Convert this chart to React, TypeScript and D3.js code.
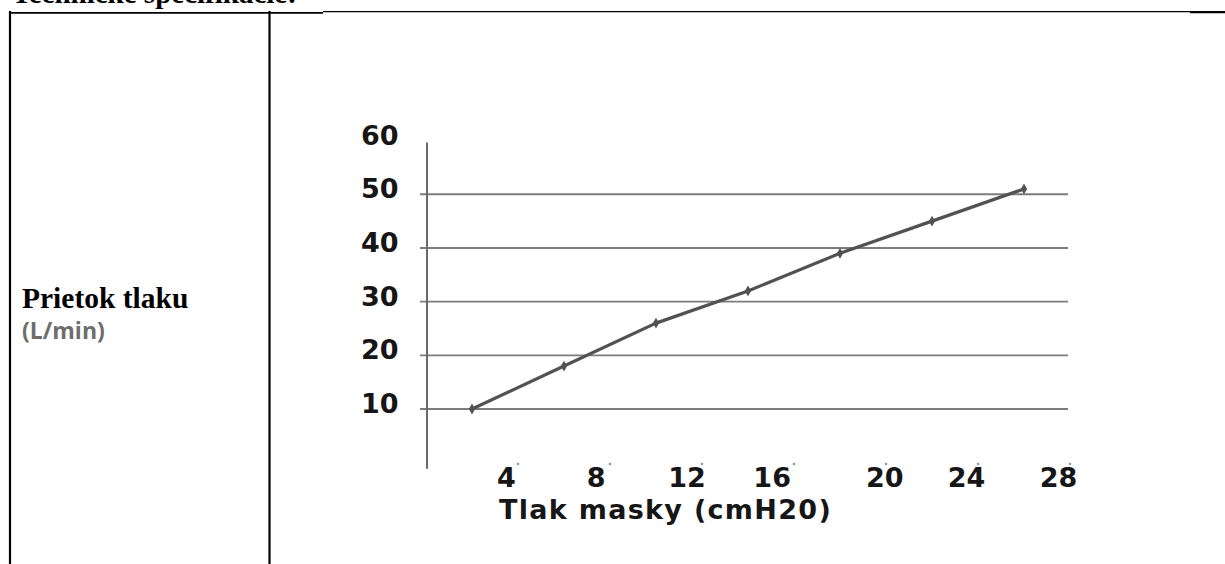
import React, { useEffect, useRef } from "react";
import * as d3 from "d3";

const W = 1225;
const H = 564;

// chart values
const pressure = [2, 6, 10, 14, 18, 22, 26];
const flow = [10, 18, 26, 32, 39, 45, 51];
const xTicks = [4, 8, 12, 16, 20, 24, 28];
const xTickLabels = ["4", "8", "12", "16", "20", "24", "28"];
// the labels sit a little left of their tick dots, not evenly
const xLabelAt = [3.5, 7.4, 11.35, 15.05, 19.95, 23.5, 27.5];
const yTicks = [10, 20, 30, 40, 50, 60];
const gridTicks = [10, 20, 30, 40, 50];

const docTitle = "Technické špecifikácie:";
const rowLabel = "Prietok tlaku";
const rowUnit = "(L/min)";
const xTitle = "Tlak masky (cmH20)";

const chartFont = "'DejaVu Sans', sans-serif";
const serif = "'Liberation Serif', 'Times New Roman', serif";

const Chart = () => {
  const ref = useRef<SVGSVGElement>(null);

  useEffect(() => {
    const svg = d3.select(ref.current);
    svg.selectAll("*").remove();

    // document table around the chart
    const table = svg.append("g");
    table
      .append("text")
      .attr("x", 12)
      .attr("y", 3)
      .attr("font-family", serif)
      .attr("font-weight", "bold")
      .attr("font-size", 29)
      .attr("fill", "#000")
      .text(docTitle);

    const border = [
      { x1: 9, x2: 323, y: 12.9, w: 1.7 },
      { x1: 323, x2: 1190, y: 11.7, w: 1.3 },
      { x1: 1190, x2: W, y: 12.2, w: 2.3 },
    ];
    border.forEach((b) => {
      table
        .append("line")
        .attr("x1", b.x1)
        .attr("x2", b.x2)
        .attr("y1", b.y)
        .attr("y2", b.y)
        .attr("stroke", "#000")
        .attr("stroke-width", b.w);
    });
    [10, 269.5].forEach((x) => {
      table
        .append("line")
        .attr("x1", x)
        .attr("x2", x)
        .attr("y1", 11)
        .attr("y2", H)
        .attr("stroke", "#000")
        .attr("stroke-width", 2.2);
    });

    table
      .append("text")
      .attr("x", 22)
      .attr("y", 308)
      .attr("font-family", serif)
      .attr("font-weight", "bold")
      .attr("font-size", 29.5)
      .attr("fill", "#000")
      .text(rowLabel);
    table
      .append("text")
      .attr("x", 22)
      .attr("y", 339)
      .attr("font-family", "'Open Sans', Lato, sans-serif")
      .attr("font-weight", "bold")
      .attr("font-size", 23)
      .attr("fill", "#6d6d6d")
      .text(rowUnit);

    // scales: axis sits at pressure 0
    const x = d3.scaleLinear().domain([0, 28]).range([426, 1070]);
    const y = d3.scaleLinear().domain([0, 60]).range([462.7, 140.6]);

    const g = svg.append("g");

    // gridlines
    g.selectAll(".grid")
      .data(gridTicks)
      .enter()
      .append("line")
      .attr("x1", x(0) - 6)
      .attr("x2", x(28) - 2)
      .attr("y1", (d) => y(d))
      .attr("y2", (d) => y(d))
      .attr("stroke", "#7c7c7c")
      .attr("stroke-width", 1.9);

    // y axis line
    g.append("line")
      .attr("x1", x(0) + 1)
      .attr("x2", x(0) + 1)
      .attr("y1", y(60) + 2)
      .attr("y2", y(0) + 6)
      .attr("stroke", "#6a6a6a")
      .attr("stroke-width", 2);

    // y tick labels
    g.selectAll(".ylab")
      .data(yTicks)
      .enter()
      .append("text")
      .attr("x", 361)
      .attr("y", (d) => y(d) + 4)
      .attr("font-family", chartFont)
      .attr("font-weight", "bold")
      .attr("font-size", 27)
      .attr("fill", "#161616")
      .text((d) => String(d));

    // tiny tick dots above the x labels
    g.selectAll(".xdot")
      .data(xTicks)
      .enter()
      .append("circle")
      .attr("cx", (d) => x(d))
      .attr("cy", 464)
      .attr("r", 1.3)
      .attr("fill", "#9a9a9a");

    g.selectAll(".xlab")
      .data(xTickLabels)
      .enter()
      .append("text")
      .attr("x", (_, i) => x(xLabelAt[i]))
      .attr("y", 487)
      .attr("text-anchor", "middle")
      .attr("font-family", chartFont)
      .attr("font-weight", "bold")
      .attr("font-size", 27)
      .attr("fill", "#161616")
      .text((d) => d);

    g.append("text")
      .attr("x", 499)
      .attr("y", 519)
      .attr("font-family", chartFont)
      .attr("font-weight", "bold")
      .attr("font-size", 27)
      .attr("letter-spacing", 1.3)
      .attr("fill", "#161616")
      .text(xTitle);

    // data line
    const pts = pressure.map((p, i) => [p, flow[i]] as [number, number]);
    const line = d3
      .line<[number, number]>()
      .x((d) => x(d[0]))
      .y((d) => y(d[1]));

    g.append("path")
      .datum(pts)
      .attr("d", line)
      .attr("fill", "none")
      .attr("stroke", "#525252")
      .attr("stroke-width", 3.2)
      .attr("stroke-linejoin", "round");

    g.selectAll(".mark")
      .data(pts)
      .enter()
      .append("path")
      .attr("d", d3.symbol().type(d3.symbolDiamond).size(34))
      .attr("transform", (d) => `translate(${x(d[0])},${y(d[1])})`)
      .attr("fill", "#525252");
  }, []);

  return (
    <svg
      ref={ref}
      width={W}
      height={H}
      style={{ position: "absolute", left: 0, top: 0, background: "#fff" }}
    />
  );
};

export default function App() {
  return <Chart />;
}
